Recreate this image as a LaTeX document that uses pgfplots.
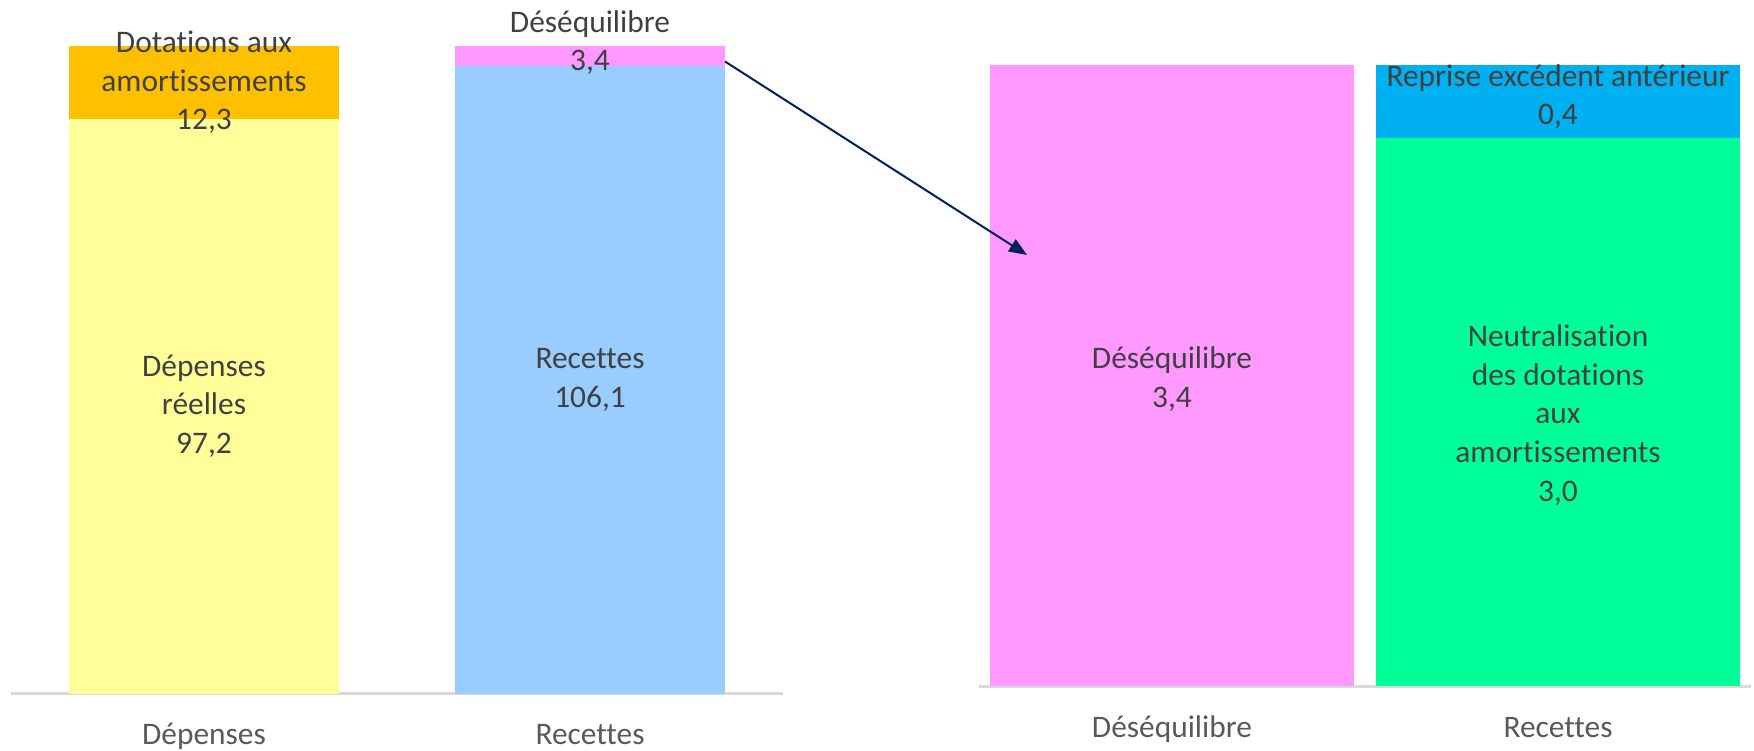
\documentclass[border=0pt]{standalone}
\usepackage{pgfplots}
\pgfplotsset{compat=1.18}
\usepackage{fontspec}
\setmainfont{Carlito}[Ligatures=NoCommon]
\usetikzlibrary{arrows.meta}
\definecolor{cYel}{HTML}{FFFF99}
\definecolor{cOra}{HTML}{FFC000}
\definecolor{cLbl}{HTML}{99CCFF}
\definecolor{cPnk}{HTML}{FF99FF}
\definecolor{cGrn}{HTML}{00FF99}
\definecolor{cBlu}{HTML}{00B0F0}
\definecolor{lineg}{HTML}{D9D9D9}
\definecolor{txt}{HTML}{404040}
\definecolor{cat}{HTML}{595959}
\definecolor{navy}{HTML}{002060}
\newcommand{\lblfont}{\fontsize{15.7}{19.3}\selectfont}
\pgfplotsset{
  common/.style={
    scale only axis, width=386pt,
    ybar stacked, bar shift=0pt,
    xmin=-0.5, xmax=1.5, ymin=0,
    enlargelimits=false, clip=false,
    axis x line=bottom, axis y line=none,
    x axis line style={-, draw=lineg, line width=1.5pt},
    xtick={0,1}, xtick style={draw=none},
    ytick=\empty,
    xticklabel style={font=\lblfont, text=cat, anchor=base, yshift=-23.5pt},
  }
}
\tikzset{lbl/.style={font=\lblfont, text=txt, align=center}}
\begin{document}
\begin{tikzpicture}
\path[use as bounding box] (0,0) rectangle (877pt,375pt);
\begin{axis}[common, at={(5.5pt,28.25pt)}, anchor=south west,
  height=323.75pt, ymax=109.5, bar width=0.7,
  xticklabels={Dépenses, Recettes}]
\addplot[fill=cYel, draw=none] coordinates {(0,97.2) (1,0)};
\addplot[fill=cOra, draw=none] coordinates {(0,12.3) (1,0)};
\addplot[fill=cLbl, draw=none] coordinates {(0,0) (1,106.1)};
\addplot[fill=cPnk, draw=none] coordinates {(0,0) (1,3.4)};
\coordinate (L1) at (axis cs:0,103.35);
\coordinate (L2) at (axis cs:0,48.6);
\coordinate (L3) at (axis cs:1,53.05);
\coordinate (L4) at (axis cs:1,110.1);
\end{axis}
\begin{axis}[common, at={(489.5pt,32pt)}, anchor=south west,
  height=310.5pt, ymax=3.4, bar width=0.944,
  xticklabels={Déséquilibre, Recettes}]
\addplot[fill=cPnk, draw=none] coordinates {(0,3.4) (1,0)};
\addplot[fill=cGrn, draw=none] coordinates {(0,0) (1,3.0)};
\addplot[fill=cBlu, draw=none] coordinates {(0,0) (1,0.4)};
\coordinate (R1) at (axis cs:0,1.68);
\coordinate (R2) at (axis cs:1,1.484);
\coordinate (R3) at (axis cs:1,3.226);
\end{axis}
\node[lbl] at (L1) {Dotations aux\\amortissements\\12,3};
\node[lbl] at (L2) {Dépenses\\réelles\\97,2};
\node[lbl] at (L3) {Recettes\\106,1};
\node[lbl] at (L4) {Déséquilibre\\3,4};
\node[lbl] at (R1) {Déséquilibre\\3,4};
\node[lbl] at (R2) {Neutralisation\\des dotations\\aux\\amortissements\\3,0};
\node[lbl] at (R3) {Reprise excédent antérieur\\0,4};
\draw[navy, line width=1pt, -{Triangle[length=9pt, width=7pt]}] (362.5pt,344.25pt) -- (513.5pt,247.5pt);
\end{tikzpicture}
\end{document}
